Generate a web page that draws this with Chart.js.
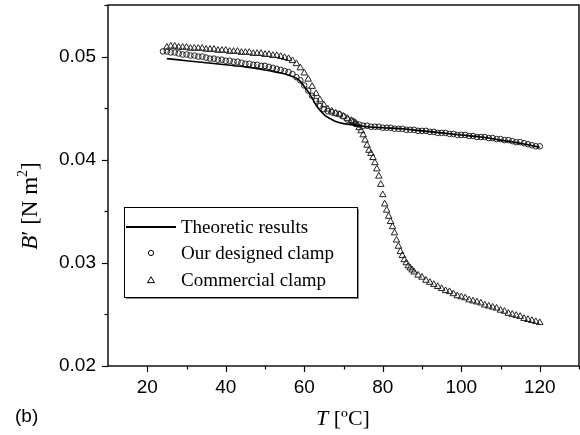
<!DOCTYPE html>
<html>
<head>
<meta charset="utf-8">
<script src="https://cdn.jsdelivr.net/npm/chart.js@4/dist/chart.umd.min.js"></script>
<style>
html,body{margin:0;padding:0;background:#fff;}
#wrap{position:relative;width:580px;height:435px;}
</style>
</head>
<body>
<div id="wrap"><canvas id="c" width="580" height="435"></canvas></div>
<script>
// ---- data ----
const xTickValues = [20, 40, 60, 80, 100, 120];
const yTickValues = [0.02, 0.03, 0.04, 0.05];
const seriesNames = ["Theoretic results", "Our designed clamp", "Commercial clamp"];

const T_theory = [25, 30, 35, 40, 45, 50, 54, 56, 58, 59, 60, 61, 62, 63, 64, 65, 66, 67, 68, 70, 72, 74, 76, 80, 85, 90, 95, 100, 105, 110, 115, 120];
const B_theory = [0.0498, 0.0496, 0.0494, 0.0492, 0.0490, 0.0487, 0.0484, 0.0482, 0.0479, 0.0476, 0.0471, 0.0466, 0.0460, 0.0453, 0.0448, 0.0444, 0.0441, 0.0439, 0.0437, 0.0435, 0.0434, 0.0433, 0.0432, 0.0431, 0.0430, 0.0428, 0.0426, 0.0424, 0.0422, 0.0419, 0.0416, 0.0412];

const T_ours = [24, 25, 26, 27, 28, 29, 30, 31, 32, 33, 34, 35, 36, 37, 38, 39, 40, 41, 42, 43, 44, 45, 46, 47, 48, 49, 50, 51, 52, 53, 54, 55, 56, 57, 58, 59, 60, 61, 62, 63, 64, 65, 66, 67, 68, 69, 70, 71, 72, 73, 74, 75, 76, 77, 78, 79, 80, 81, 82, 83, 84, 85, 86, 87, 88, 89, 90, 91, 92, 93, 94, 95, 96, 97, 98, 99, 100, 101, 102, 103, 104, 105, 106, 107, 108, 109, 110, 111, 112, 113, 114, 115, 116, 117, 118, 119, 120];
const B_ours = [0.0505, 0.0505, 0.0504, 0.0504, 0.0503, 0.0502, 0.0502, 0.0501, 0.0501, 0.0500, 0.0500, 0.0499, 0.0498, 0.0498, 0.0497, 0.0497, 0.0496, 0.0496, 0.0495, 0.0495, 0.0494, 0.0493, 0.0493, 0.0492, 0.0492, 0.0491, 0.0491, 0.0490, 0.0489, 0.0488, 0.0487, 0.0486, 0.0485, 0.0483, 0.0480, 0.0477, 0.0472, 0.0467, 0.0462, 0.0457, 0.0452, 0.0449, 0.0447, 0.0446, 0.0445, 0.0444, 0.0442, 0.0439, 0.0437, 0.0435, 0.0434, 0.0433, 0.0433, 0.0432, 0.0432, 0.0432, 0.0431, 0.0431, 0.0431, 0.0430, 0.0430, 0.0430, 0.0429, 0.0429, 0.0429, 0.0428, 0.0428, 0.0428, 0.0427, 0.0427, 0.0426, 0.0426, 0.0426, 0.0425, 0.0425, 0.0424, 0.0424, 0.0424, 0.0423, 0.0423, 0.0422, 0.0422, 0.0422, 0.0421, 0.0421, 0.0420, 0.0420, 0.0419, 0.0419, 0.0418, 0.0417, 0.0417, 0.0416, 0.0415, 0.0414, 0.0413, 0.0413];

const T_comm = [25, 26, 27, 28, 29, 30, 31, 32, 33, 34, 35, 36, 37, 38, 39, 40, 41, 42, 43, 44, 45, 46, 47, 48, 49, 50, 51, 52, 53, 54, 55, 56, 57, 58, 59, 60, 61, 62, 63, 64, 65, 66, 67, 68, 69, 70, 71, 72,
  72.5, 73, 73.5, 74, 74.5, 75, 75.5, 76, 76.5, 77, 77.5, 78, 78.5, 79, 79.5, 80, 80.5, 81, 81.5, 82, 82.5, 83, 83.5, 84, 84.5, 85, 85.5, 86, 86.5, 87, 87.5, 88,
  89, 90, 91, 92, 93, 94, 95, 96, 97, 98, 99, 100, 101, 102, 103, 104, 105, 106, 107, 108, 109, 110, 111, 112, 113, 114, 115, 116, 117, 118, 119, 120];
const B_comm = [0.0509, 0.0510, 0.0510, 0.0509, 0.0509, 0.0509, 0.0508, 0.0508, 0.0508, 0.0508,
  0.0507, 0.0507, 0.0507, 0.0506, 0.0506, 0.0506, 0.0505, 0.0505, 0.0505, 0.0504,
  0.0504, 0.0504, 0.0503, 0.0503, 0.0503, 0.0502, 0.0502, 0.0501, 0.0501, 0.0500,
  0.0499, 0.0498, 0.0496, 0.0493, 0.0489, 0.0484, 0.0478, 0.0471, 0.0464, 0.0458,
  0.0453, 0.0449, 0.0447, 0.0445, 0.0444, 0.0442, 0.0440, 0.0438,
  0.0437, 0.0436, 0.0434, 0.0431, 0.0428, 0.0424, 0.0419, 0.0414, 0.0409, 0.0406, 0.0402, 0.0397, 0.0391, 0.0384, 0.0376, 0.0366, 0.0357, 0.0351, 0.0345, 0.0340, 0.0335, 0.0329, 0.0322, 0.0316, 0.0311, 0.0307, 0.0303, 0.0300, 0.0297, 0.0295, 0.0293, 0.0291,
  0.0288, 0.0286, 0.0283, 0.0281, 0.0279, 0.0277, 0.0275, 0.0273, 0.0272, 0.0270,
  0.0268, 0.0267, 0.0266, 0.0264, 0.0263, 0.0262, 0.0261, 0.0259, 0.0258, 0.0257,
  0.0256, 0.0254, 0.0253, 0.0251, 0.0250, 0.0249, 0.0248, 0.0246, 0.0245, 0.0244,
  0.0243, 0.0242];

const toPts = (xs, ys) => xs.map((x, i) => ({x: x, y: ys[i]}));

const SERIF = '"Liberation Serif", "Times New Roman", serif';
const SANS = '"Liberation Sans", Arial, sans-serif';

const framePlugin = {
  id: 'frame',
  afterDraw(chart) {
    const ctx = chart.ctx;
    const a = chart.chartArea;
    const xs = chart.scales.x, ys = chart.scales.y;
    ctx.save();
    ctx.strokeStyle = '#000';
    ctx.lineWidth = 1.4;
    ctx.strokeRect(a.left, a.top, a.right - a.left, a.bottom - a.top);
    ctx.lineWidth = 1.2;
    // x ticks (major + minor)
    for (let v = 20; v <= 130; v += 10) {
      const px = Math.round(xs.getPixelForValue(v)) + 0.5;
      const len = (v % 20 === 0) ? 6 : 3.5;
      ctx.beginPath(); ctx.moveTo(px, a.bottom); ctx.lineTo(px, a.bottom + len); ctx.stroke();
    }
    for (let k = 0; k <= 7; k++) {
      const v = 0.02 + k * 0.005;
      const py = Math.round(ys.getPixelForValue(v)) + 0.5;
      const len = (k % 2 === 0) ? 6 : 3.5;
      ctx.beginPath(); ctx.moveTo(a.left, py); ctx.lineTo(a.left - len, py); ctx.stroke();
    }

    // legend
    const lx = a.left + 16, ly = 207, lw = 233, lh = 90;
    ctx.fillStyle = '#888';
    ctx.fillRect(lx + 2, ly + 2, lw, lh);
    ctx.fillStyle = '#fff';
    ctx.fillRect(lx, ly, lw, lh);
    ctx.lineWidth = 1;
    ctx.strokeStyle = '#000';
    ctx.strokeRect(lx + 0.5, ly + 0.5, lw, lh);
    const rows = [227, 253, 280];
    ctx.lineWidth = 2;
    ctx.beginPath(); ctx.moveTo(lx + 2, rows[0]); ctx.lineTo(lx + 52, rows[0]); ctx.stroke();
    ctx.lineWidth = 1;
    ctx.beginPath(); ctx.arc(lx + 27, rows[1], 2.6, 0, Math.PI * 2); ctx.stroke();
    ctx.beginPath();
    ctx.moveTo(lx + 27, rows[2] - 3.2); ctx.lineTo(lx + 30.5, rows[2] + 2.6); ctx.lineTo(lx + 23.5, rows[2] + 2.6); ctx.closePath(); ctx.stroke();
    ctx.fillStyle = '#000';
    ctx.font = '19px ' + SERIF;
    ctx.textBaseline = 'middle';
    ctx.textAlign = 'left';
    seriesNames.forEach((n, i) => ctx.fillText(n, lx + 57, rows[i] + 1));

    // x title: T [ºC]
    ctx.textBaseline = 'alphabetic';
    const xt1 = 'T', xt2 = ' [ºC]';
    ctx.font = 'italic 22px ' + SERIF;
    const w1 = ctx.measureText(xt1).width;
    ctx.font = '22px ' + SERIF;
    const w2 = ctx.measureText(xt2).width;
    let sx = 343 - (w1 + w2) / 2;
    ctx.font = 'italic 22px ' + SERIF; ctx.fillText(xt1, sx, 425);
    ctx.font = '22px ' + SERIF; ctx.fillText(xt2, sx + w1, 425);

    // y title: B′ [N m²]
    ctx.save();
    ctx.translate(37, 206);
    ctx.rotate(-Math.PI / 2);
    const parts = [
      {t: 'B', f: 'italic 23px ' + SERIF, dy: 0},
      {t: '\u2032 [N m', f: '23px ' + SERIF, dy: 0},
      {t: '2', f: '14px ' + SERIF, dy: -10},
      {t: ']', f: '23px ' + SERIF, dy: 0}
    ];
    let tot = 0;
    parts.forEach(p => { ctx.font = p.f; p.w = ctx.measureText(p.t).width; tot += p.w; });
    let cx = -tot / 2;
    parts.forEach(p => { ctx.font = p.f; ctx.fillText(p.t, cx, p.dy); cx += p.w; });
    ctx.restore();

    // panel label
    ctx.font = '19px ' + SANS;
    ctx.textBaseline = 'middle';
    ctx.fillText('(b)', 15, 417);
    ctx.restore();
  }
};

new Chart(document.getElementById('c'), {
  type: 'scatter',
  data: {
    datasets: [
      {
        label: seriesNames[1],
        data: toPts(T_ours, B_ours),
        pointStyle: 'circle',
        pointRadius: 2.8,
        pointBorderWidth: 1,
        borderColor: '#222',
        backgroundColor: 'rgba(0,0,0,0)',
        showLine: false,
        order: 2
      },
      {
        label: seriesNames[2],
        data: toPts(T_comm, B_comm),
        pointStyle: 'triangle',
        pointRadius: 3.8,
        pointBorderWidth: 1,
        borderColor: '#222',
        backgroundColor: 'rgba(0,0,0,0)',
        showLine: false,
        order: 3
      },
      {
        label: seriesNames[0],
        data: toPts(T_theory, B_theory),
        showLine: true,
        borderColor: '#000',
        borderWidth: 1.6,
        pointRadius: 0,
        cubicInterpolationMode: 'monotone',
        fill: false,
        order: 1
      }
    ]
  },
  options: {
    responsive: false,
    animation: false,
    devicePixelRatio: 1,
    layout: {autoPadding: false, padding: {left: 0, right: 1, top: 5, bottom: 0}},
    plugins: {legend: {display: false}, tooltip: {enabled: false}},
    scales: {
      x: {
        type: 'linear', min: 10, max: 130,
        afterFit: s => { s.height = 69; s.paddingLeft = 0; s.paddingRight = 0; },
        afterBuildTicks: s => { s.ticks = xTickValues.map(v => ({value: v})); },
        grid: {display: true, drawOnChartArea: false, drawTicks: false},
        border: {display: false},
        ticks: {color: '#000', font: {family: SANS, size: 19}, padding: 10, maxRotation: 0, autoSkip: false,
                callback: v => String(v)}
      },
      y: {
        type: 'linear', min: 0.02, max: 0.055,
        afterFit: s => { s.width = 108; s.paddingTop = 0; s.paddingBottom = 0; },
        afterBuildTicks: s => { s.ticks = yTickValues.map(v => ({value: v})); },
        grid: {display: true, drawOnChartArea: false, drawTicks: false},
        border: {display: false},
        ticks: {color: '#000', font: {family: SANS, size: 19}, padding: 12, autoSkip: false,
                callback: v => v.toFixed(2)}
      }
    }
  },
  plugins: [framePlugin]
});
</script>
</body>
</html>
